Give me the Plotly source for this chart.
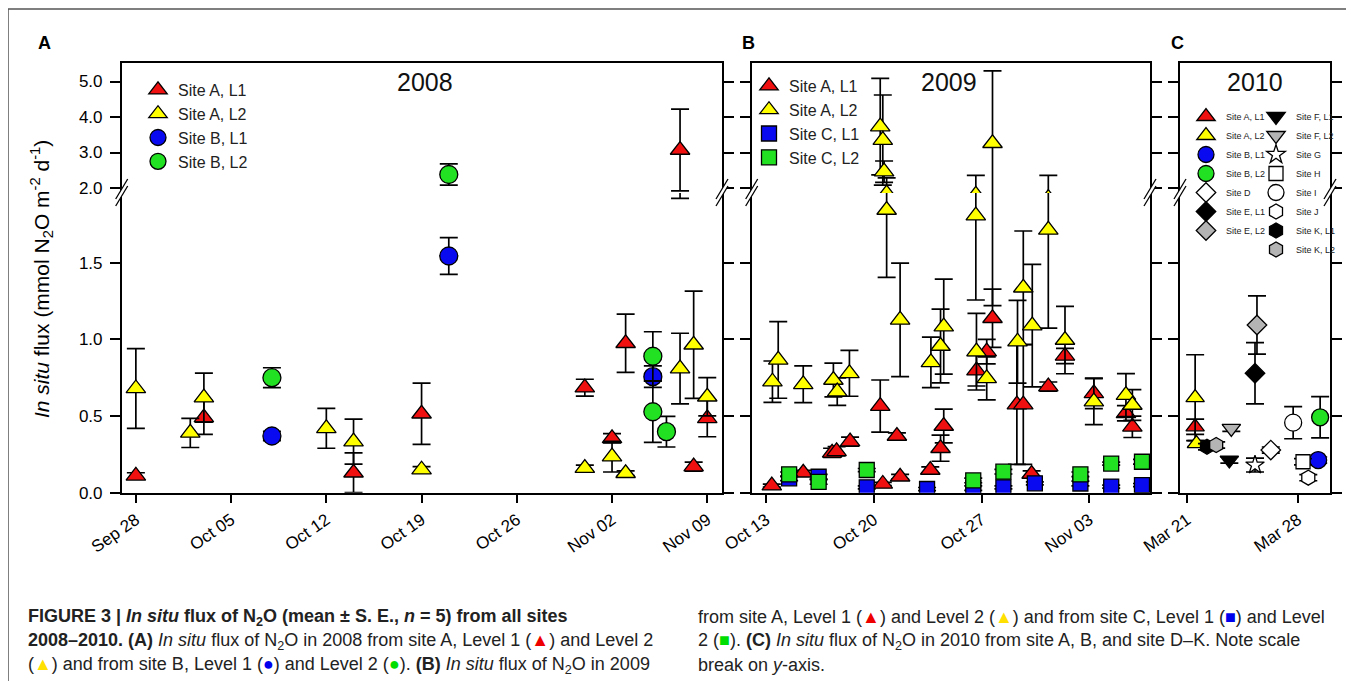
import plotly.graph_objects as go

# page body has an 8px margin: figure is sized to fit the window, coords given in window pixels
OFF = 8
W, H = 1354 - OFF, 681 - OFF

# ---------------- 2008 (panel A) ----------------
a_siteA_L1_dates = ['2008-09-28', '2008-10-03', '2008-10-14', '2008-10-19', '2008-10-31',
                    '2008-11-02', '2008-11-03', '2008-11-07', '2008-11-08', '2008-11-09']
a_siteA_L1_vals = [0.11, 0.49, 0.13, 0.515, 0.685, 0.355, 0.975, 3.07, 0.17, 0.485]
a_siteA_L1_err = [0.02, 0.11, 0.13, 0.20, 0.055, 0.03, 0.19, 1.15, 0.03, 0.12]

a_siteA_L2_dates = ['2008-09-28', '2008-10-02', '2008-10-03', '2008-10-12', '2008-10-14', '2008-10-19',
                    '2008-10-31', '2008-11-02', '2008-11-03', '2008-11-07', '2008-11-08', '2008-11-09']
a_siteA_L2_vals = [0.68, 0.39, 0.62, 0.42, 0.333, 0.15, 0.16, 0.235, 0.127, 0.81, 0.965, 0.626]
a_siteA_L2_err = [0.26, 0.095, 0.16, 0.13, 0.147, 0.02, 0.02, 0.10, 0.015, 0.23, 0.35, 0.125]

a_siteB_L1_dates = ['2008-10-08', '2008-10-21', '2008-11-05']
a_siteB_L1_vals = [0.37, 1.544, 0.757]
a_siteB_L1_err = [0.03, 0.12, 0.07]

a_siteB_L2_dates = ['2008-10-08', '2008-10-21', '2008-11-05', '2008-11-05', '2008-11-06']
a_siteB_L2_vals = [0.75, 2.38, 0.89, 0.528, 0.398]
a_siteB_L2_err = [0.065, 0.30, 0.16, 0.20, 0.10]

# ---------------- 2009 (panel B) ----------------
b_siteA_L1_dates = ['2009-10-13 09:00', '2009-10-15 10:00', '2009-10-17 07:00', '2009-10-17 14:00',
                    '2009-10-18 11:00', '2009-10-20 10:00', '2009-10-20 14:00', '2009-10-21 12:00',
                    '2009-10-21 17:00', '2009-10-23 16:00', '2009-10-24 08:00', '2009-10-24 13:00',
                    '2009-10-26 16:00', '2009-10-27 08:00', '2009-10-27 17:00', '2009-10-29 07:00',
                    '2009-10-29 17:00', '2009-10-30 06:00', '2009-10-31 08:00', '2009-11-01 10:00',
                    '2009-11-03 07:00', '2009-11-05 09:00', '2009-11-05 19:00']
b_siteA_L1_vals = [0.046, 0.13, 0.26, 0.27, 0.333, 0.565, 0.057, 0.37, 0.104, 0.148, 0.29, 0.435,
                   0.796, 0.92, 1.138, 0.575, 0.575, 0.122, 0.692, 0.892, 0.648, 0.518, 0.43]
b_siteA_L1_err = [0.01, 0.015, 0.03, 0.03, 0.03, 0.17, 0.01, 0.02, 0.015, 0.02, 0.085, 0.11,
                  0.10, 0.08, 0.19, 0.39, 0.39, 0.02, 0.03, 0.05, 0.10, 0.05, 0.07]

b_siteA_L2_dates = ['2009-10-13 10:00', '2009-10-13 19:00', '2009-10-15 10:00', '2009-10-17 09:00',
                    '2009-10-17 15:00', '2009-10-18 10:00', '2009-10-20 10:00', '2009-10-20 14:00',
                    '2009-10-20 16:00', '2009-10-20 20:00', '2009-10-21 17:00', '2009-10-23 17:00',
                    '2009-10-24 08:00', '2009-10-24 13:00', '2009-10-26 15:00', '2009-10-26 16:00',
                    '2009-10-27 08:00', '2009-10-27 17:00', '2009-10-29 08:00', '2009-10-29 17:00',
                    '2009-10-30 07:00', '2009-10-31 08:00', '2009-11-01 10:00', '2009-11-03 07:00',
                    '2009-11-05 09:00', '2009-11-05 19:00']
b_siteA_L2_vals = [0.724, 0.866, 0.707, 0.735, 0.659, 0.779, 3.73, 3.35, 2.46, 1.844, 1.127, 0.85,
                   0.957, 1.083, 1.807, 0.92, 0.746, 3.26, 0.985, 1.337, 1.09, 1.714, 0.996, 0.594,
                   0.637, 0.572]
b_siteA_L2_err = [0.135, 0.25, 0.12, 0.11, 0.09, 0.15, 1.36, 1.27, 0.30, 0.44, 0.37, 0.165,
                  0.24, 0.31, 0.55, 0.25, 0.14, 2.04, 0.27, 0.37, 0.40, 0.64, 0.22, 0.15,
                  0.14, 0.10]

b_siteC_L1_dates = ['2009-10-14 12:00', '2009-10-16 10:00', '2009-10-19 13:00', '2009-10-23 11:00',
                    '2009-10-26 11:00', '2009-10-28 10:00', '2009-10-30 11:00', '2009-11-02 10:00',
                    '2009-11-04 10:00', '2009-11-06 10:00']
b_siteC_L1_vals = [0.094, 0.104, 0.035, 0.024, 0.03, 0.035, 0.061, 0.06, 0.04, 0.05]
b_siteC_L1_err = [0.015, 0.015, 0.01, 0.01, 0.015, 0.01, 0.01, 0.015, 0.01, 0.01]

b_siteC_L2_dates = ['2009-10-14 12:00', '2009-10-16 10:00', '2009-10-19 13:00', '2009-10-26 11:00',
                    '2009-10-28 10:00', '2009-11-02 10:00', '2009-11-04 10:00', '2009-11-06 10:00']
b_siteC_L2_vals = [0.12, 0.07, 0.148, 0.08, 0.137, 0.12, 0.19, 0.202]
b_siteC_L2_err = [0.015, 0.015, 0.01, 0.015, 0.015, 0.015, 0.01, 0.015]

# ---------------- 2010 (panel C) ----------------
c_siteA_L1 = (['2010-03-21 12:00'], [0.43], [0.05])
c_siteA_L2 = (['2010-03-21 12:00', '2010-03-21 14:00'], [0.62, 0.32], [0.28, 0.02])
c_siteB_L1 = (['2010-03-29 07:00'], [0.213], [0.02])
c_siteB_L2 = (['2010-03-29 10:00'], [0.492], [0.135])
c_siteD = (['2010-03-26 07:00'], [0.278], [0.02])
c_siteE_L1 = (['2010-03-25 07:00'], [0.779], [0.20])
c_siteE_L2 = (['2010-03-25 10:00'], [1.094], [0.19])
c_siteF_L1 = (['2010-03-23 16:00'], [0.213], [0.02])
c_siteF_L2 = (['2010-03-23 19:00'], [0.42], [0.02])
c_siteG = (['2010-03-25 07:00'], [0.18], [0.045])
c_siteH = (['2010-03-28 08:00'], [0.202], [0.02])
c_siteI = (['2010-03-27 17:00'], [0.457], [0.105])
c_siteJ = (['2010-03-28 16:00'], [0.098], [0.02])
c_siteK_L1 = (['2010-03-22 06:00'], [0.30], [0.02])
c_siteK_L2 = (['2010-03-22 20:00'], [0.311], [0.02])

lower_ticks = [0.0, 0.5, 1.0, 1.5]
upper_ticks = [2.0, 3.0, 4.0, 5.0]

RED, YEL, BLU, GRN = '#F01010', '#FFFF00', '#0A0AF0', '#22E022'
GRY, BLK, WHT = '#B4B4B4', '#000000', '#FFFFFF'


# ---------------- geometry (window pixels -> paper) ----------------
def fx(p):
    return (p - OFF) / W


def fy(p):
    return 1 - (p - OFF) / H


Y_TOP, Y_BREAK, Y_BOT = 63.3, 193.0, 492.7
LOWER_RANGE = [0, (Y_BOT - Y_BREAK) / 153.3]
UPPER_RANGE = [2.0 - (Y_BREAK - 188.0) / 35.5, 2.0 + (188.0 - Y_TOP) / 35.5]

panels = [
    dict(x0=121.7, x1=722.0, rng=['2008-09-26 23:00', '2008-11-10 02:00'], tick0='2008-09-28', labels=True),
    dict(x0=751.7, x1=1150.0, rng=['2009-10-12 01:40', '2009-11-06 22:30'], tick0='2009-10-13', labels=False),
    dict(x0=1180.0, x1=1330.0, rng=['2010-03-20 13:00', '2010-03-30 01:00'], tick0='2010-03-21', labels=False),
]

fig = go.Figure()
layout = {}
for i, p in enumerate(panels):
    lo, up = 2 * i + 1, 2 * i + 2
    lx = 'xaxis' if lo == 1 else f'xaxis{lo}'
    ly = 'yaxis' if lo == 1 else f'yaxis{lo}'
    ux, uy = f'xaxis{up}', f'yaxis{up}'
    xdom = [fx(p['x0']), fx(p['x1'])]
    ax_common = dict(showgrid=False, zeroline=False, linecolor='black', linewidth=1.5,
                     tickcolor='black', tickwidth=1.5, automargin=False)
    layout[lx] = dict(domain=xdom, type='date', range=p['rng'], tick0=p['tick0'],
                      dtick=7 * 86400000, tickformat='%b %d', tickangle=-35,
                      ticks='outside', ticklen=9, showline=True, mirror=False,
                      anchor=f'y{lo}' if lo > 1 else 'y',
                      tickfont=dict(size=17, color='black'), **ax_common)
    layout[ux] = dict(domain=xdom, type='date', range=p['rng'], matches=f'x{lo}' if lo > 1 else 'x',
                      side='top', showline=True, ticks='', showticklabels=False,
                      anchor=f'y{up}', **ax_common)
    layout[ly] = dict(domain=[fy(Y_BOT), fy(Y_BREAK)], range=LOWER_RANGE,
                      tickvals=lower_ticks, ticktext=[f'{v:.1f}' for v in lower_ticks],
                      ticks='outside', ticklen=10, showline=True, mirror='ticks',
                      showticklabels=p['labels'], anchor=f'x{lo}' if lo > 1 else 'x',
                      tickfont=dict(size=17, color='black'), ticklabelstandoff=4, **ax_common)
    layout[uy] = dict(domain=[fy(Y_BREAK), fy(Y_TOP)], range=UPPER_RANGE,
                      tickvals=upper_ticks, ticktext=[f'{v:.1f}' for v in upper_ticks],
                      ticks='outside', ticklen=10, showline=True, mirror='ticks',
                      showticklabels=p['labels'], anchor=f'x{up}',
                      tickfont=dict(size=17, color='black'), ticklabelstandoff=4, **ax_common)


def add_series(name, dates, vals, errs, sym, color, size, panel, legend):
    lo, up = 2 * panel + 1, 2 * panel + 2
    for k, (xa, ya) in enumerate([(lo, lo), (up, up)]):
        fig.add_trace(go.Scatter(
            x=dates, y=vals, mode='markers', name=name,
            marker=dict(symbol=sym, color=color, size=size, line=dict(color='black', width=1.3)),
            error_y=dict(type='data', array=errs, color='black', thickness=1.7, width=9),
            xaxis='x' if xa == 1 else f'x{xa}', yaxis='y' if ya == 1 else f'y{ya}',
            showlegend=(k == 0), legend=legend, hoverinfo='x+y'))


# panel A
add_series('Site A, L1', a_siteA_L1_dates, a_siteA_L1_vals, a_siteA_L1_err, 'triangle-up', RED, 17, 0, 'legend')
add_series('Site A, L2', a_siteA_L2_dates, a_siteA_L2_vals, a_siteA_L2_err, 'triangle-up', YEL, 17, 0, 'legend')
add_series('Site B, L1', a_siteB_L1_dates, a_siteB_L1_vals, a_siteB_L1_err, 'circle', BLU, 18, 0, 'legend')
add_series('Site B, L2', a_siteB_L2_dates, a_siteB_L2_vals, a_siteB_L2_err, 'circle', GRN, 18, 0, 'legend')
# panel B
add_series('Site A, L1', b_siteA_L1_dates, b_siteA_L1_vals, b_siteA_L1_err, 'triangle-up', RED, 17, 1, 'legend2')
add_series('Site A, L2', b_siteA_L2_dates, b_siteA_L2_vals, b_siteA_L2_err, 'triangle-up', YEL, 17, 1, 'legend2')
add_series('Site C, L1', b_siteC_L1_dates, b_siteC_L1_vals, b_siteC_L1_err, 'square', BLU, 15, 1, 'legend2')
add_series('Site C, L2', b_siteC_L2_dates, b_siteC_L2_vals, b_siteC_L2_err, 'square', GRN, 15, 1, 'legend2')
# panel C
c_series = [
    ('Site A, L1', c_siteA_L1, 'triangle-up', RED, 16, 'legend3'),
    ('Site A, L2', c_siteA_L2, 'triangle-up', YEL, 16, 'legend3'),
    ('Site B, L1', c_siteB_L1, 'circle', BLU, 17, 'legend3'),
    ('Site B, L2', c_siteB_L2, 'circle', GRN, 17, 'legend3'),
    ('Site D', c_siteD, 'diamond', WHT, 15, 'legend3'),
    ('Site E, L1', c_siteE_L1, 'diamond', BLK, 15, 'legend3'),
    ('Site E, L2', c_siteE_L2, 'diamond', GRY, 15, 'legend3'),
    ('Site F, L1', c_siteF_L1, 'triangle-down', BLK, 16, 'legend4'),
    ('Site F, L2', c_siteF_L2, 'triangle-down', GRY, 16, 'legend4'),
    ('Site G', c_siteG, 'star', WHT, 14, 'legend4'),
    ('Site H', c_siteH, 'square', WHT, 14, 'legend4'),
    ('Site I', c_siteI, 'circle', WHT, 17, 'legend4'),
    ('Site J', c_siteJ, 'hexagon', WHT, 15, 'legend4'),
    ('Site K, L1', c_siteK_L1, 'hexagon', BLK, 15, 'legend4'),
    ('Site K, L2', c_siteK_L2, 'hexagon', GRY, 15, 'legend4'),
]
for name, (d, v, e), sym, col, sz, lg in c_series:
    add_series(name, d, v, e, sym, col, sz, 2, lg)

leg_common = dict(bgcolor='rgba(0,0,0,0)', borderwidth=0, xanchor='left', yanchor='top',
                  traceorder='normal', itemsizing='trace')
layout['legend'] = dict(x=fx(138), y=fy(73), font=dict(size=16, color='#222'), **leg_common)
layout['legend2'] = dict(x=fx(749), y=fy(69), font=dict(size=16, color='#222'), **leg_common)
layout['legend3'] = dict(x=fx(1186), y=fy(102), font=dict(size=9, color='#222'), **leg_common)
layout['legend4'] = dict(x=fx(1256), y=fy(102), font=dict(size=9, color='#222'), **leg_common)

# ---------------- annotations ----------------
ann = []
for txt, x, y in [('2008', 425, 82), ('2009', 949, 82), ('2010', 1255, 82)]:
    ann.append(dict(text=txt, x=fx(x), y=fy(y), xref='paper', yref='paper', showarrow=False,
                    font=dict(size=25, color='#111'), xanchor='center', yanchor='middle'))
for txt, x, y in [('A', 44, 43), ('B', 748, 43), ('C', 1177, 43)]:
    ann.append(dict(text=f'<b>{txt}</b>', x=fx(x), y=fy(y), xref='paper', yref='paper',
                    showarrow=False, font=dict(size=18, color='black'),
                    xanchor='center', yanchor='middle'))
ann.append(dict(text='<i>In situ</i> flux (mmol N<sub>2</sub>O m<sup>-2</sup> d<sup>-1</sup>)',
                x=fx(41), y=fy(279), xref='paper', yref='paper', showarrow=False, textangle=-90,
                font=dict(size=21, color='black'), xanchor='center', yanchor='middle'))

tri_r = "<span style='color:#EE0000'>▲</span>"
tri_y = "<span style='color:#FFE000'>▲</span>"
cir_b = "<span style='color:#0000EE'>●</span>"
cir_g = "<span style='color:#00DD00'>●</span>"
sq_b = "<span style='color:#0000EE'>■</span>"
sq_g = "<span style='color:#00DD00'>■</span>"
n2o = 'N<sub>2</sub>O'
caption_left = [
    f'<b>FIGURE 3 | <i>In situ</i> flux of {n2o} (mean ± S. E., <i>n</i> = 5) from all sites</b>',
    f'<b>2008–2010. (A)</b> <i>In situ</i> flux of {n2o} in 2008 from site A, Level 1 ({tri_r}) and Level 2',
    f'({tri_y}) and from site B, Level 1 ({cir_b}) and Level 2 ({cir_g}). <b>(B)</b> <i>In situ</i> flux of {n2o} in 2009',
]
caption_right = [
    f'from site A, Level 1 ({tri_r}) and Level 2 ({tri_y}) and from site C, Level 1 ({sq_b}) and Level',
    f'2 ({sq_g}). <b>(C)</b> <i>In situ</i> flux of {n2o} in 2010 from site A, B, and site D–K. Note scale',
    'break on <i>y</i>-axis.',
]
for j, (l, r) in enumerate(zip(caption_left, caption_right)):
    yy = 617 + 24 * j
    ann.append(dict(text=l, x=fx(26), y=fy(yy), xref='paper', yref='paper', showarrow=False,
                    font=dict(size=18, color='#222'), xanchor='left', yanchor='middle'))
    ann.append(dict(text=r, x=fx(696), y=fy(yy), xref='paper', yref='paper', showarrow=False,
                    font=dict(size=18, color='#222'), xanchor='left', yanchor='middle'))

# ---------------- shapes: axis breaks and frame ----------------
shapes = [dict(type='rect', xref='paper', yref='paper', x0=fx(8), x1=fx(1353), y0=fy(700), y1=fy(9),
               line=dict(color='#555', width=1.5), fillcolor='rgba(0,0,0,0)', layer='below')]
for xb in [121.7, 722.0, 751.7, 1150.0, 1180.0, 1330.0]:
    c1, c2 = 189.0, 196.0
    pts = [(xb - 6, c1 + 10), (xb + 6, c1 - 10), (xb + 6, c2 - 10), (xb - 6, c2 + 10)]
    path = 'M ' + ' L '.join(f'{fx(a):.5f},{fy(b):.5f}' for a, b in pts) + ' Z'
    shapes.append(dict(type='path', xref='paper', yref='paper', path=path,
                       fillcolor='white', line=dict(width=0)))
    for c in (c1, c2):
        shapes.append(dict(type='line', xref='paper', yref='paper',
                           x0=fx(xb - 6), y0=fy(c + 10), x1=fx(xb + 6), y1=fy(c - 10),
                           line=dict(color='black', width=1.3)))

fig.update_layout(width=W, height=H, margin=dict(l=0, r=0, t=0, b=0, autoexpand=False),
                  paper_bgcolor='white', plot_bgcolor='white',
                  font=dict(family='Arial, Liberation Sans, sans-serif', color='black'),
                  annotations=ann, shapes=shapes, **layout)

fig.write_html('out.html')
